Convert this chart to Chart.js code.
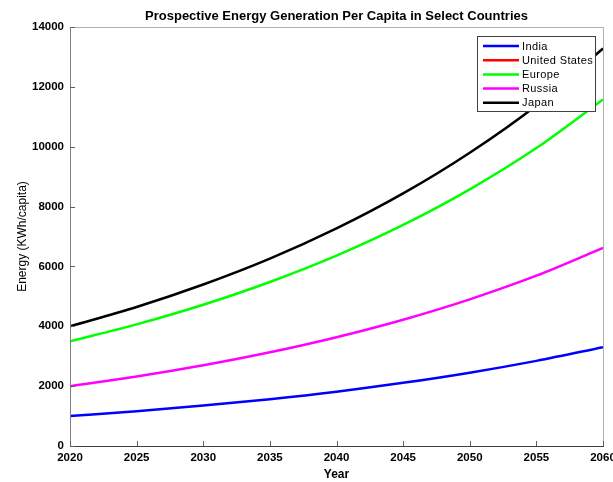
<!DOCTYPE html>
<html>
<head>
<meta charset="utf-8">
<script src="https://cdn.jsdelivr.net/npm/chart.js@4/dist/chart.umd.min.js"></script>
<style>
  html, body { margin: 0; padding: 0; background: #fff; }
  #wrap { width: 613px; height: 482px; }
</style>
</head>
<body>
<div id="wrap"><canvas id="myChart" width="613" height="482"></canvas></div>
<script>
const years = [2020, 2025, 2030, 2035, 2040, 2045, 2050, 2055, 2060];
const india = [1000, 1160, 1350, 1565, 1815, 2110, 2450, 2845, 3300];
// US line is never visible in the picture (above the 14000 limit)
const unitedStates = [14500, 16800, 19500, 22700, 26300, 30500, 35400, 41100, 47700];
const europe = [3500, 4065, 4720, 5480, 6360, 7385, 8575, 9955, 11580];
const russia = [2000, 2320, 2695, 3130, 3635, 4220, 4900, 5690, 6620];
const japan = [4000, 4645, 5395, 6260, 7270, 8440, 9800, 11380, 13280];
const yTicks = [0, 2000, 4000, 6000, 8000, 10000, 12000, 14000];

const chartTitle = 'Prospective Energy Generation Per Capita in Select Countries';
const FONT = "'Liberation Sans', Arial, sans-serif";

function toPoints(values) {
    return values.map((v, i) => ({ x: years[i], y: v }));
}

function makeSet(label, values, color) {
    return {
        label: label,
        data: toPoints(values),
        borderColor: color,
        backgroundColor: color,
        borderWidth: 2.5,
        pointRadius: 0,
        tension: 0.4,
        cubicInterpolationMode: 'monotone'
    };
}

// frame, inward tick marks, title over the axes and the boxed legend, MATLAB style
const matlabAxes = {
    id: 'matlabAxes',
    afterDatasetsDraw(chart) {
        const { ctx, chartArea: a, scales } = chart;
        ctx.save();
        ctx.lineWidth = 1;
        ctx.strokeStyle = '#b0b0b0';
        ctx.beginPath();
        ctx.moveTo(a.left, a.top + 0.5);
        ctx.lineTo(a.right + 0.5, a.top + 0.5);
        ctx.lineTo(a.right + 0.5, a.bottom);
        ctx.stroke();
        ctx.strokeStyle = '#808080';
        ctx.beginPath();
        ctx.moveTo(a.left + 0.5, a.top);
        ctx.lineTo(a.left + 0.5, a.bottom);
        ctx.stroke();
        ctx.strokeStyle = '#404040';
        ctx.beginPath();
        ctx.moveTo(a.left, a.bottom + 0.5);
        ctx.lineTo(a.right + 1, a.bottom + 0.5);
        ctx.stroke();

        ctx.strokeStyle = '#606060';
        ctx.beginPath();
        years.forEach(y => {
            const px = Math.round(scales.x.getPixelForValue(y)) + 0.5;
            ctx.moveTo(px, a.bottom);
            ctx.lineTo(px, a.bottom - 5);
        });
        yTicks.forEach(t => {
            const py = Math.round(scales.y.getPixelForValue(t)) + 0.5;
            ctx.moveTo(a.left, py);
            ctx.lineTo(a.left + 5, py);
        });
        ctx.stroke();

        // title, centred over the plot box
        ctx.fillStyle = '#000';
        ctx.font = 'bold 13px ' + FONT;
        ctx.textAlign = 'center';
        ctx.textBaseline = 'middle';
        ctx.fillText(chartTitle, (a.left + a.right) / 2, 16);

        // legend
        const bx = 477, by = 36, bw = 118, bh = 75;
        ctx.fillStyle = '#fff';
        ctx.fillRect(bx, by, bw, bh);
        ctx.strokeStyle = '#404040';
        ctx.strokeRect(bx + 0.5, by + 0.5, bw, bh);
        ctx.font = '11px ' + FONT;
        ctx.letterSpacing = '0.4px';
        ctx.textAlign = 'left';
        chart.data.datasets.forEach((ds, i) => {
            const ry = by + 10 + i * 14.2;
            ctx.strokeStyle = ds.borderColor;
            ctx.lineWidth = 2.5;
            ctx.beginPath();
            ctx.moveTo(483, ry);
            ctx.lineTo(519, ry);
            ctx.stroke();
            ctx.fillStyle = '#000';
            ctx.fillText(ds.label, 522, ry + 0.5);
        });
        ctx.restore();
    }
};

const ctx = document.getElementById('myChart');

const energyChart = new Chart(ctx, {
    type: 'line',
    data: {
        datasets: [
            makeSet('India', india, '#0000ff'),
            makeSet('United States', unitedStates, '#ff0000'),
            makeSet('Europe', europe, '#00ff00'),
            makeSet('Russia', russia, '#ff00ff'),
            makeSet('Japan', japan, '#000000')
        ]
    },
    options: {
        responsive: false,
        animation: false,
        layout: { padding: { left: 14, right: 10, top: 27, bottom: 0 } },
        plugins: {
            legend: { display: false },
            tooltip: { enabled: false },
            title: { display: false }
        },
        scales: {
            x: {
                type: 'linear',
                min: 2020,
                max: 2060,
                afterBuildTicks: (scale) => {
                    scale.ticks = years.map(v => ({ value: v }));
                },
                afterFit: (scale) => {
                    scale.height = 36;
                    scale.paddingRight = 0;
                    scale.paddingLeft = 0;
                },
                grid: { display: false, drawTicks: false },
                border: { display: false },
                ticks: {
                    color: '#000',
                    padding: 5,
                    maxRotation: 0,
                    autoSkip: false,
                    font: { family: FONT, size: 11.5, weight: 'bold' },
                    callback: (v) => String(v)
                },
                title: {
                    display: true,
                    text: 'Year',
                    color: '#000',
                    font: { family: FONT, size: 12, weight: 'bold' },
                    padding: { top: 2, bottom: 0 }
                }
            },
            y: {
                min: 0,
                max: 14000,
                afterBuildTicks: (scale) => {
                    scale.ticks = yTicks.map(v => ({ value: v }));
                },
                afterFit: (scale) => {
                    scale.width = 56;
                },
                grid: { display: false, drawTicks: false },
                border: { display: false },
                ticks: {
                    color: '#000',
                    padding: 6,
                    font: { family: FONT, size: 11.5, weight: 'bold' },
                    callback: (v) => String(v)
                },
                title: {
                    display: true,
                    text: 'Energy (KWh/capita)',
                    color: '#000',
                    font: { family: FONT, size: 12 },
                    padding: { top: 1, bottom: 0 }
                }
            }
        }
    },
    plugins: [matlabAxes]
});
</script>
</body>
</html>
